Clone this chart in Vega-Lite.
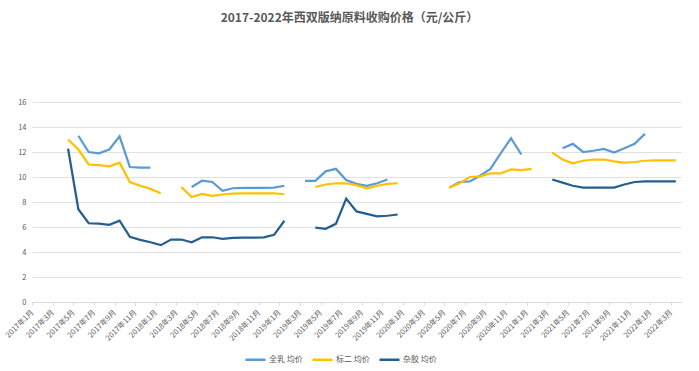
{
  "$schema": "https://vega.github.io/schema/vega-lite/v6.json",
  "width": 649,
  "height": 200,
  "autosize": {"type": "none"},
  "padding": {"left": 32, "top": 102, "right": 18, "bottom": 69},
  "background": "white",
  "config": {
    "font": "Noto Sans CJK SC",
    "view": {"stroke": null}
  },
  "title": {
    "text": "2017-2022年西双版纳原料收购价格（元/公斤）",
    "fontSize": 12,
    "fontWeight": "bold",
    "color": "#595959",
    "anchor": "middle",
    "dx": -7,
    "offset": 73
  },
  "data": {
    "values": [
      {"m": "2017年1月", "全乳 均价": null, "标二 均价": null, "杂胶 均价": null},
      {"m": "2017年2月", "全乳 均价": null, "标二 均价": null, "杂胶 均价": null},
      {"m": "2017年3月", "全乳 均价": null, "标二 均价": null, "杂胶 均价": null},
      {"m": "2017年4月", "全乳 均价": null, "标二 均价": 13.0, "杂胶 均价": 12.27},
      {"m": "2017年5月", "全乳 均价": 13.3, "标二 均价": 12.2, "杂胶 均价": 7.42},
      {"m": "2017年6月", "全乳 均价": 12.0, "标二 均价": 11.0, "杂胶 均价": 6.3},
      {"m": "2017年7月", "全乳 均价": 11.9, "标二 均价": 10.95, "杂胶 均价": 6.27},
      {"m": "2017年8月", "全乳 均价": 12.2, "标二 均价": 10.85, "杂胶 均价": 6.17},
      {"m": "2017年9月", "全乳 均价": 13.25, "标二 均价": 11.15, "杂胶 均价": 6.5},
      {"m": "2017年10月", "全乳 均价": 10.8, "标二 均价": 9.6, "杂胶 均价": 5.21},
      {"m": "2017年11月", "全乳 均价": 10.75, "标二 均价": 9.3, "杂胶 均价": 4.97},
      {"m": "2017年12月", "全乳 均价": 10.75, "标二 均价": 9.05, "杂胶 均价": 4.78},
      {"m": "2018年1月", "全乳 均价": null, "标二 均价": 8.7, "杂胶 均价": 4.55},
      {"m": "2018年2月", "全乳 均价": null, "标二 均价": null, "杂胶 均价": 5.0},
      {"m": "2018年3月", "全乳 均价": null, "标二 均价": 9.2, "杂胶 均价": 5.0},
      {"m": "2018年4月", "全乳 均价": 9.2, "标二 均价": 8.4, "杂胶 均价": 4.78},
      {"m": "2018年5月", "全乳 均价": 9.7, "标二 均价": 8.65, "杂胶 均价": 5.18},
      {"m": "2018年6月", "全乳 均价": 9.6, "标二 均价": 8.5, "杂胶 均价": 5.18},
      {"m": "2018年7月", "全乳 均价": 8.9, "标二 均价": 8.6, "杂胶 均价": 5.05},
      {"m": "2018年8月", "全乳 均价": 9.1, "标二 均价": 8.67, "杂胶 均价": 5.13},
      {"m": "2018年9月", "全乳 均价": 9.13, "标二 均价": 8.7, "杂胶 均价": 5.15},
      {"m": "2018年10月", "全乳 均价": 9.13, "标二 均价": 8.7, "杂胶 均价": 5.15},
      {"m": "2018年11月", "全乳 均价": 9.13, "标二 均价": 8.7, "杂胶 均价": 5.17},
      {"m": "2018年12月", "全乳 均价": 9.15, "标二 均价": 8.7, "杂胶 均价": 5.37},
      {"m": "2019年1月", "全乳 均价": 9.3, "标二 均价": 8.62, "杂胶 均价": 6.5},
      {"m": "2019年2月", "全乳 均价": null, "标二 均价": null, "杂胶 均价": null},
      {"m": "2019年3月", "全乳 均价": 9.7, "标二 均价": null, "杂胶 均价": null},
      {"m": "2019年4月", "全乳 均价": 9.7, "标二 均价": 9.2, "杂胶 均价": 5.95},
      {"m": "2019年5月", "全乳 均价": 10.45, "标二 均价": 9.4, "杂胶 均价": 5.85},
      {"m": "2019年6月", "全乳 均价": 10.65, "标二 均价": 9.5, "杂胶 均价": 6.25},
      {"m": "2019年7月", "全乳 均价": 9.75, "标二 均价": 9.5, "杂胶 均价": 8.27},
      {"m": "2019年8月", "全乳 均价": 9.45, "标二 均价": 9.35, "杂胶 均价": 7.25},
      {"m": "2019年9月", "全乳 均价": 9.3, "标二 均价": 9.1, "杂胶 均价": 7.05},
      {"m": "2019年10月", "全乳 均价": 9.5, "标二 均价": 9.3, "杂胶 均价": 6.85},
      {"m": "2019年11月", "全乳 均价": 9.8, "标二 均价": 9.45, "杂胶 均价": 6.9},
      {"m": "2019年12月", "全乳 均价": null, "标二 均价": 9.5, "杂胶 均价": 7.0},
      {"m": "2020年1月", "全乳 均价": null, "标二 均价": null, "杂胶 均价": null},
      {"m": "2020年2月", "全乳 均价": null, "标二 均价": null, "杂胶 均价": null},
      {"m": "2020年3月", "全乳 均价": null, "标二 均价": null, "杂胶 均价": null},
      {"m": "2020年4月", "全乳 均价": null, "标二 均价": null, "杂胶 均价": null},
      {"m": "2020年5月", "全乳 均价": 9.15, "标二 均价": 9.15, "杂胶 均价": null},
      {"m": "2020年6月", "全乳 均价": 9.6, "标二 均价": 9.5, "杂胶 均价": null},
      {"m": "2020年7月", "全乳 均价": 9.65, "标二 均价": 10.0, "杂胶 均价": null},
      {"m": "2020年8月", "全乳 均价": 10.1, "标二 均价": 10.05, "杂胶 均价": null},
      {"m": "2020年9月", "全乳 均价": 10.65, "标二 均价": 10.3, "杂胶 均价": null},
      {"m": "2020年10月", "全乳 均价": 11.9, "标二 均价": 10.3, "杂胶 均价": null},
      {"m": "2020年11月", "全乳 均价": 13.1, "标二 均价": 10.6, "杂胶 均价": null},
      {"m": "2020年12月", "全乳 均价": 11.8, "标二 均价": 10.55, "杂胶 均价": null},
      {"m": "2021年1月", "全乳 均价": null, "标二 均价": 10.65, "杂胶 均价": null},
      {"m": "2021年2月", "全乳 均价": null, "标二 均价": null, "杂胶 均价": null},
      {"m": "2021年3月", "全乳 均价": null, "标二 均价": 11.95, "杂胶 均价": 9.8},
      {"m": "2021年4月", "全乳 均价": 12.3, "标二 均价": 11.4, "杂胶 均价": 9.55},
      {"m": "2021年5月", "全乳 均价": 12.65, "标二 均价": 11.1, "杂胶 均价": 9.3},
      {"m": "2021年6月", "全乳 均价": 12.0, "标二 均价": 11.3, "杂胶 均价": 9.15},
      {"m": "2021年7月", "全乳 均价": 12.1, "标二 均价": 11.4, "杂胶 均价": 9.15},
      {"m": "2021年8月", "全乳 均价": 12.25, "标二 均价": 11.4, "杂胶 均价": 9.15},
      {"m": "2021年9月", "全乳 均价": 11.95, "标二 均价": 11.25, "杂胶 均价": 9.15},
      {"m": "2021年10月", "全乳 均价": 12.3, "标二 均价": 11.15, "杂胶 均价": 9.4},
      {"m": "2021年11月", "全乳 均价": 12.65, "标二 均价": 11.2, "杂胶 均价": 9.6},
      {"m": "2021年12月", "全乳 均价": 13.45, "标二 均价": 11.3, "杂胶 均价": 9.65},
      {"m": "2022年1月", "全乳 均价": null, "标二 均价": 11.33, "杂胶 均价": 9.65},
      {"m": "2022年2月", "全乳 均价": null, "标二 均价": 11.33, "杂胶 均价": 9.65},
      {"m": "2022年3月", "全乳 均价": null, "标二 均价": 11.33, "杂胶 均价": 9.65}
    ]
  },
  "transform": [
    {"fold": ["全乳 均价", "标二 均价", "杂胶 均价"], "as": ["s", "v"]}
  ],
  "mark": {"type": "line", "strokeWidth": 2.25, "invalid": "break-paths-show-domains"},
  "encoding": {
    "x": {
      "field": "m",
      "type": "ordinal",
      "sort": null,
      "scale": {
        "type": "point",
        "padding": 0.5,
        "domain": ["2017年1月","2017年2月","2017年3月","2017年4月","2017年5月","2017年6月","2017年7月","2017年8月","2017年9月","2017年10月","2017年11月","2017年12月","2018年1月","2018年2月","2018年3月","2018年4月","2018年5月","2018年6月","2018年7月","2018年8月","2018年9月","2018年10月","2018年11月","2018年12月","2019年1月","2019年2月","2019年3月","2019年4月","2019年5月","2019年6月","2019年7月","2019年8月","2019年9月","2019年10月","2019年11月","2019年12月","2020年1月","2020年2月","2020年3月","2020年4月","2020年5月","2020年6月","2020年7月","2020年8月","2020年9月","2020年10月","2020年11月","2020年12月","2021年1月","2021年2月","2021年3月","2021年4月","2021年5月","2021年6月","2021年7月","2021年8月","2021年9月","2021年10月","2021年11月","2021年12月","2022年1月","2022年2月","2022年3月"]
      },
      "axis": {
        "title": null,
        "values": ["2017年1月","2017年3月","2017年5月","2017年7月","2017年9月","2017年11月","2018年1月","2018年3月","2018年5月","2018年7月","2018年9月","2018年11月","2019年1月","2019年3月","2019年5月","2019年7月","2019年9月","2019年11月","2020年1月","2020年3月","2020年5月","2020年7月","2020年9月","2020年11月","2021年1月","2021年3月","2021年5月","2021年7月","2021年9月","2021年11月","2022年1月","2022年3月"],
        "labelAngle": -45,
        "labelAlign": "right",
        "labelBaseline": "middle",
        "labelFontSize": 7.5,
        "labelColor": "#595959",
        "labelPadding": 6,
        "labelOverlap": false,
        "tickOffset": -5,
        "tickSize": 3,
        "tickColor": "#D9D9D9",
        "domainColor": "#D9D9D9",
        "grid": false
      }
    },
    "y": {
      "field": "v",
      "type": "quantitative",
      "scale": {"domain": [0, 16], "nice": false},
      "axis": {
        "title": null,
        "values": [0, 2, 4, 6, 8, 10, 12, 14, 16],
        "labelFontSize": 7.5,
        "labelColor": "#595959",
        "labelPadding": 6,
        "ticks": false,
        "domain": false,
        "gridColor": "#D9D9D9",
        "gridWidth": 0.8
      }
    },
    "color": {
      "field": "s",
      "type": "nominal",
      "sort": ["全乳 均价", "标二 均价", "杂胶 均价"],
      "scale": {"domain": ["全乳 均价", "标二 均价", "杂胶 均价"], "range": ["#5B9BD5", "#FFC000", "#255E91"]},
      "legend": {
        "title": null,
        "orient": "none",
        "direction": "horizontal",
        "legendX": 212,
        "legendY": 246,
        "symbolType": "stroke",
        "symbolSize": 400,
        "symbolStrokeWidth": 2.5,
        "labelFontSize": 8,
        "labelColor": "#595959",
        "labelOffset": 2,
        "columnPadding": 4
      }
    }
  }
}
